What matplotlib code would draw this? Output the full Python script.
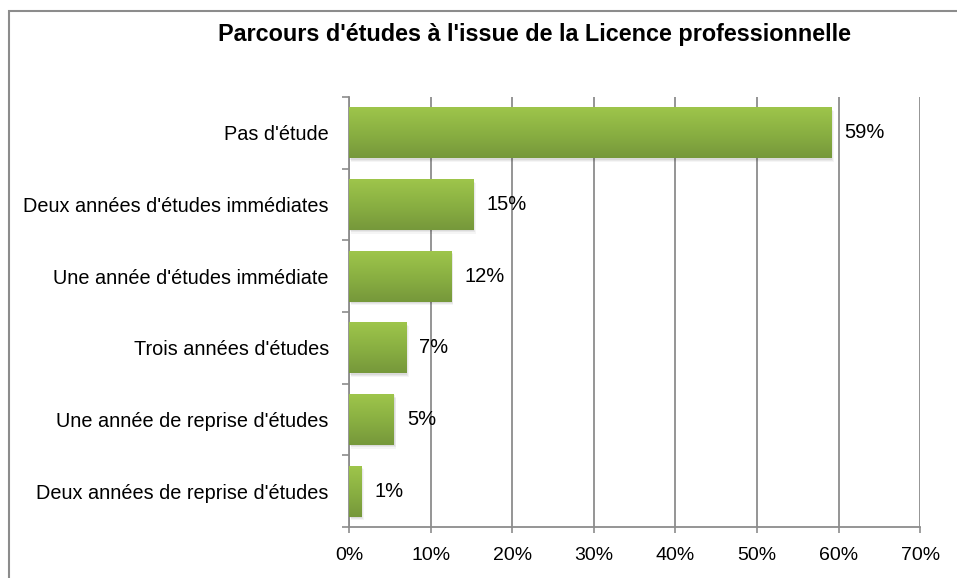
import matplotlib
matplotlib.use("Agg")
import matplotlib.pyplot as plt
import numpy as np
from matplotlib.patches import Rectangle
from matplotlib.colors import LinearSegmentedColormap

plt.rcParams['font.family'] = ['Liberation Sans', 'DejaVu Sans']

categories = ["Pas d'étude", "Deux années d'études immédiates", "Une année d'études immédiate",
              "Trois années d'études", "Une année de reprise d'études", "Deux années de reprise d'études"]
values = [59.1, 15.2, 12.5, 7.0, 5.5, 1.5]
labels = ["59%", "15%", "12%", "7%", "5%", "1%"]
xticks = [0, 10, 20, 30, 40, 50, 60, 70]
xticklabels = ["0%", "10%", "20%", "30%", "40%", "50%", "60%", "70%"]
title = "Parcours d'études à l'issue de la Licence professionnelle"

fig = plt.figure(figsize=(9.57, 5.78), dpi=100)
L, R, B, T = 349 / 957, 920.3 / 957, 1 - 527 / 578, 1 - 97 / 578
ax = fig.add_axes([L, B, R - L, T - B])

y = np.arange(len(categories))
grid_c = '#8c8c8c'
ax.set_xticks(xticks)
ax.set_xticklabels(xticklabels, fontsize=14)
ax.set_yticks(y)
ax.set_yticklabels(categories, fontsize=14.3)
ax.set_yticks(np.arange(len(categories) + 1) - 0.5, minor=True)
ax.tick_params(axis='y', which='major', length=0, pad=14.5)
ax.tick_params(axis='y', which='minor', length=5, color=grid_c, width=1.2)
ax.tick_params(axis='x', length=4.5, color=grid_c, width=1.2, pad=10)
ax.grid(axis='x', color=grid_c, linewidth=1.3, zorder=0)
ax.set_axisbelow(True)
for s in ['top', 'right']:
    ax.spines[s].set_visible(False)
for s in ['left', 'bottom']:
    ax.spines[s].set_color(grid_c)
    ax.spines[s].set_linewidth(1.3)

bars = ax.barh(y, values, height=0.71, color='#8db443', zorder=3, linewidth=0)
cmap = LinearSegmentedColormap.from_list('g', ['#9ec54b', '#8ab042', '#76983b'])
grad = np.linspace(0, 1, 100).reshape(-1, 1)
for b in bars:
    x0, y0 = b.get_x(), b.get_y()
    w, h = b.get_width(), b.get_height()
    for k, a in enumerate([0.06, 0.05, 0.04]):
        sh = Rectangle((x0 + 0.1 + 0.1 * k, y0 + 0.02 + 0.015 * k), w, h, facecolor='#000000',
                       alpha=a, linewidth=0, zorder=2)
        ax.add_patch(sh)
    im = ax.imshow(grad, extent=(x0, x0 + w, y0 + h, y0), cmap=cmap, aspect='auto',
                   zorder=4, origin='upper')
    im.set_clip_path(b)
ax.set_xlim(0, 70)
ax.set_ylim(len(categories) - 0.5, -0.5)

for b, lab in zip(bars, labels):
    ax.annotate(lab, (b.get_width(), b.get_y() + b.get_height() / 2), xytext=(9.5, 0),
                textcoords='offset points', va='center', ha='left', fontsize=14.5, zorder=5)

fig.text(0.558, 1 - 35 / 578, title, ha='center', va='center', fontsize=16.8, fontweight='bold')

border = Rectangle((9 / 957, -0.05), 1.1, 1 - 10.5 / 578 + 0.05, transform=fig.transFigure,
                   fill=False, edgecolor='#8c8c8c', linewidth=1.5)
fig.patches.append(border)

fig.savefig('out.png', dpi=100)
